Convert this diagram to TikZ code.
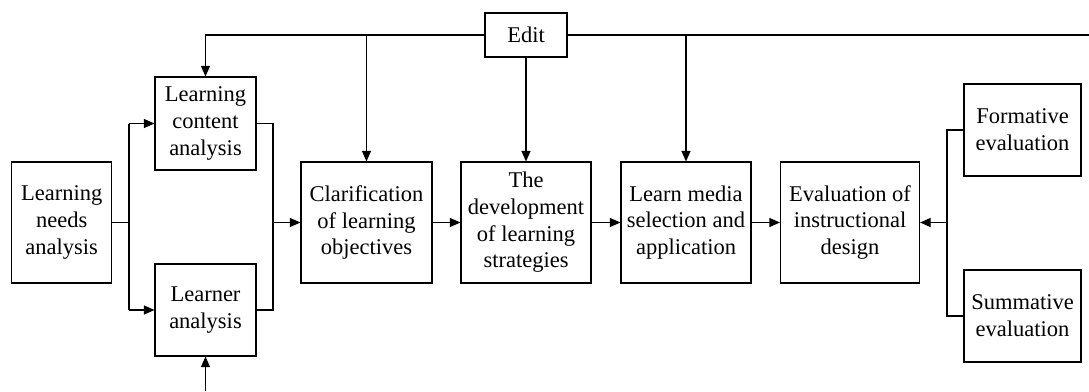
\documentclass[tikz,border=0pt]{standalone}
\usepackage{fontspec}
\setmainfont{Liberation Serif}
\usetikzlibrary{arrows.meta}
\begin{document}
\begin{tikzpicture}[x=1pt,y=-1pt,
  box/.style={draw,line width=1.1pt,align=center,inner sep=0pt,
    font=\fontsize{22.5}{26.7}\selectfont},
  conn/.style={line width=1.1pt},
  arr/.style={conn,-{Triangle[length=10.5pt,width=9pt]}}]
\useasboundingbox (0,0) rectangle (1089,391);
\node[box,minimum width=100pt,minimum height=121pt] (needs) at (61.7,222.5) {Learning\\needs\\analysis};
\node[box,minimum width=101pt,minimum height=93pt] (content) at (205.5,123.5) {Learning\\content\\analysis};
\node[box,minimum width=101pt,minimum height=92pt] (learner) at (205.5,310) {Learner\\analysis};
\node[box,minimum width=131pt,minimum height=121pt] (clar) at (366.5,222.5) {Clarification\\of learning\\objectives};
\node[box,minimum width=82pt,minimum height=44pt] (edit) at (526,35) {Edit};
\node[box,minimum width=130pt,minimum height=121pt] (dev) at (526,222.5) {The\\development\\of learning\\strategies};
\node[box,minimum width=130pt,minimum height=121pt] (media) at (686,222.5) {Learn media\\selection and\\application};
\node[box,minimum width=139pt,minimum height=121pt] (evald) at (850,222.5) {Evaluation of\\instructional\\design};
\node[box,minimum width=117pt,minimum height=92pt] (form) at (1022.5,130) {Formative\\evaluation};
\node[box,minimum width=117pt,minimum height=92pt] (summ) at (1022.5,316) {Summative\\evaluation};
% coordinates
\coordinate (tl) at (205.5,35);
\coordinate (tc) at (366.5,35);
\coordinate (tm) at (686,35);
\coordinate (tr) at (1089,35);
\coordinate (bl) at (205.5,391);
\coordinate (sp) at (129,222.5);
\coordinate (sp1) at (129,123.5);
\coordinate (sp2) at (129,310);
\coordinate (mg) at (273,222.5);
\coordinate (mg1) at (273,123.5);
\coordinate (mg2) at (273,310);
\coordinate (ev) at (947,222.5);
\coordinate (ev1) at (947,130);
\coordinate (ev2) at (947,316);
% top feedback
\draw[arr] (edit.west) -- (tl) -- (content.north);
\draw[arr] (tc) -- (clar.north);
\draw[arr] (edit.south) -- (dev.north);
\draw[conn] (edit.east) -- (tr);
\draw[arr] (tm) -- (media.north);
\draw[arr] (bl) -- (learner.south);
% split
\draw[conn] (needs.east) -- (sp);
\draw[conn] (sp1) -- (sp2);
\draw[arr] (sp1) -- (content.west);
\draw[arr] (sp2) -- (learner.west);
% merge
\draw[conn] (content.east) -- (mg1) -- (mg2) -- (learner.east);
\draw[arr] (mg) -- (clar.west);
% chain
\draw[arr] (clar.east) -- (dev.west);
\draw[arr] (dev.east) -- (media.west);
\draw[arr] (media.east) -- (evald.west);
% evaluations
\draw[conn] (form.west) -- (ev1) -- (ev2) -- (summ.west);
\draw[arr] (ev) -- (evald.east);
\end{tikzpicture}
\end{document}
